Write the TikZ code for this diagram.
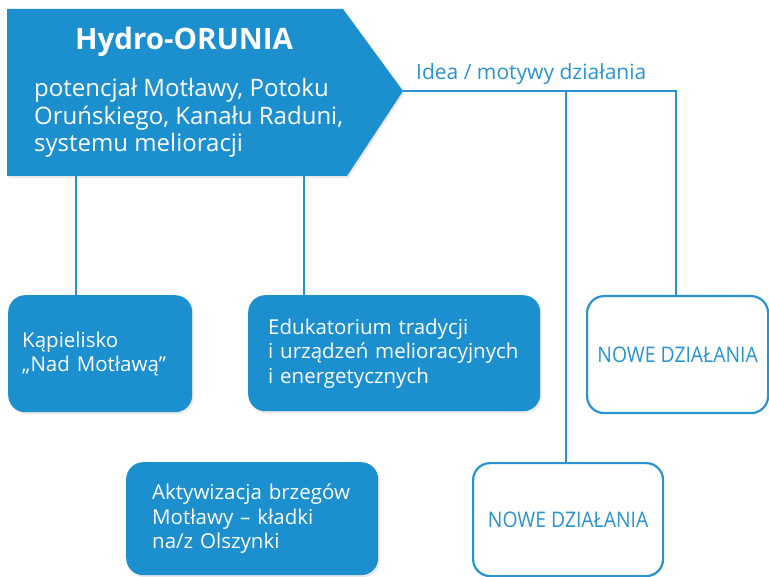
\documentclass[tikz,border=0pt]{standalone}
\usepackage{fontspec}
\usetikzlibrary{shadows}
\setmainfont{Open Sans}
\definecolor{hblue}{HTML}{1C8FCF}
\definecolor{hline}{HTML}{2993D0}
\tikzset{
  softshadow/.style={drop shadow={opacity=0.18, shadow xshift=1.5pt, shadow yshift=-2pt}},
  conn/.style={draw=hline, line width=2.2pt},
  solidbox/.style={fill=hblue, rounded corners=17pt, anchor=north west, text=white,
    align=left, font=\fontsize{20.5}{24.5}\selectfont, softshadow},
  openbox/.style={draw=hline, line width=2.2pt, fill=white, rounded corners=17pt,
    anchor=north west, text=hline, align=center, inner sep=0pt},
  nowetext/.style={text=hline, font=\fontsize{21.5}{24}\selectfont},
  desctext/.style={text=white, font=\fontsize{24}{27.5}\selectfont, anchor=base west, inner sep=0pt},
}
\begin{document}
\begin{tikzpicture}[x=1pt,y=-1pt]
\useasboundingbox (0,0) rectangle (769,577);

% heading arrow shape
\fill[hblue, softshadow] (7,9) -- (343,9) -- (403,91) -- (347,176) -- (7,176) -- cycle;
\node[inner sep=0pt, minimum width=340pt, minimum height=167pt, anchor=north west] (head) at (7,9) {};
\coordinate (tip) at (403,91);
\node[text=white, font=\bfseries\fontsize{29.5}{32}\selectfont, anchor=base] (title) at (184,50) {Hydro-ORUNIA};
\node[desctext] (desc1) at (34,97) {potencjał Motławy, Potoku};
\node[desctext] (desc2) at (34,124.5) {Oruńskiego, Kanału Raduni,};
\node[desctext] (desc3) at (34,152) {systemu melioracji};

% caption on the branch line
\node[text=hline, font=\fontsize{21}{24}\selectfont, anchor=base west, inner sep=0pt] (idea) at (416,80) {Idea / motywy działania};

% boxes
\node[solidbox, minimum width=184pt, minimum height=117pt, inner xsep=14pt, text width=156pt] (kap) at (8,295)
  {Kąpielisko\\„Nad Motławą”};
\node[solidbox, minimum width=292pt, minimum height=116pt, inner xsep=20pt, text width=252pt] (edu) at (248,295)
  {Edukatorium tradycji\\i urządzeń melioracyjnych\\i energetycznych};
\node[solidbox, minimum width=252pt, minimum height=113pt, inner xsep=26pt, text width=200pt] (akt) at (126,462)
  {Aktywizacja brzegów\\Motławy – kładki\\na/z Olszynki};
\node[openbox, minimum width=181pt, minimum height=117pt] (nowe1) at (586,295) {};
\node[openbox, minimum width=190pt, minimum height=113pt] (nowe2) at (472,462) {};
\node[nowetext, xscale=0.9, transform shape] (t1) at (nowe1.center) {NOWE DZIAŁANIA};
\node[nowetext, xscale=0.9, transform shape] (t2) at (nowe2.center) {NOWE DZIAŁANIA};

% connectors
\coordinate (k1) at (76,176);
\coordinate (e1) at (304,176);
\coordinate (j1) at (566,91);
\coordinate (j2) at (676,91);
\draw[conn] (k1) -- (k1 |- kap.north);
\draw[conn] (e1) -- (e1 |- edu.north);
\draw[conn] (tip) -- (j2) -- (j2 |- nowe1.north);
\draw[conn] (j1) -- (j1 |- nowe2.north);
\end{tikzpicture}
\end{document}
